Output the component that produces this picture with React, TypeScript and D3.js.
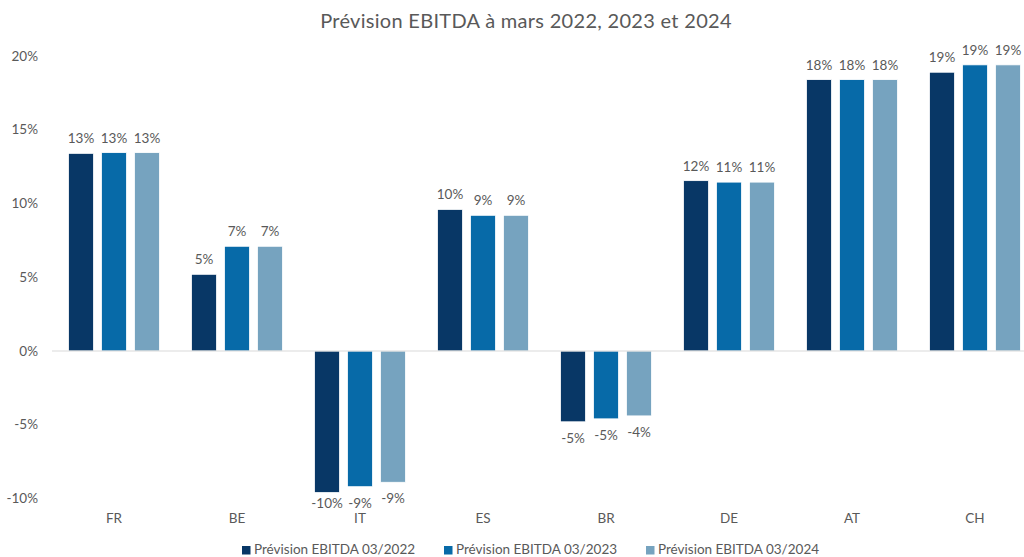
import React from 'react'
import * as d3 from 'd3'

const countries = ['FR', 'BE', 'IT', 'ES', 'BR', 'DE', 'AT', 'CH']
const series = ['Prévision EBITDA 03/2022', 'Prévision EBITDA 03/2023', 'Prévision EBITDA 03/2024']
const ebitda2022 = [13.4, 5.2, -9.6, 9.6, -4.8, 11.55, 18.4, 18.9]
const ebitda2023 = [13.45, 7.1, -9.2, 9.2, -4.6, 11.45, 18.4, 19.4]
const ebitda2024 = [13.45, 7.1, -8.9, 9.2, -4.4, 11.45, 18.4, 19.4]
const yTicks = [-10, -5, 0, 5, 10, 15, 20]
const colors = ['#083766', '#076aa8', '#76a3bf']

const width = 1024
const height = 557
const font = 'Lato, "Open Sans", sans-serif'
const textColor = '#595959'

function App() {
    const values = [ebitda2022, ebitda2023, ebitda2024]

    const x0 = d3.scaleBand().domain(countries).range([52.5, 1036.5]).paddingInner(0.26).paddingOuter(0.13)
    const x1 = d3.scaleBand().domain(series).range([0, x0.bandwidth()]).paddingInner(0.24)
    const y = d3.scaleLinear().domain([-10, 20]).range([498.5, 56])

    const fmt = (v: number) => Math.round(v) + '%'

    return (
        <svg width={width} height={height} style={{ position: 'absolute', left: 0, top: 0 }} fontFamily={font}>
            <rect width={width} height={height} fill="#fff" />
            <text x={526} y={28} textAnchor="middle" fontSize={20} letterSpacing={0.3} fill={textColor}>
                Prévision EBITDA à mars 2022, 2023 et 2024
            </text>

            {yTicks.map(t => (
                <text key={t} x={38} y={y(t) + 4.5} textAnchor="end" fontSize={13.5} fill={textColor}>
                    {t + '%'}
                </text>
            ))}

            {countries.map((c, i) => (
                <g key={c} transform={`translate(${x0(c)},0)`}>
                    {series.map((s, j) => {
                        const v = values[j][i]
                        const top = y(Math.max(0, v))
                        const bottom = y(Math.min(0, v))
                        const bx = x1(s) as number
                        const cx = bx + x1.bandwidth() / 2
                        const ly = v >= 0 ? top - 10 : Math.min(bottom + 21, 508)
                        return (
                            <g key={s}>
                                <rect x={bx} y={top} width={x1.bandwidth()} height={bottom - top}
                                    fill={colors[j]} stroke="#fff" strokeWidth={0.8} />
                                <text x={cx} y={ly} textAnchor="middle" fontSize={13.5} fill={textColor}>
                                    {fmt(v)}
                                </text>
                            </g>
                        )
                    })}
                </g>
            ))}

            <line x1={52} x2={1024} y1={y(0)} y2={y(0)} stroke="#d9d9d9" strokeWidth={1} />

            {countries.map(c => (
                <text key={c} x={(x0(c) as number) + x0.bandwidth() / 2} y={523} textAnchor="middle" fontSize={13.5} fill={textColor}>
                    {c}
                </text>
            ))}

            {series.map((s, j) => (
                <g key={s} transform={`translate(${242 + j * 202},0)`}>
                    <rect x={0} y={546} width={8.5} height={8.5} fill={colors[j]} />
                    <text x={12} y={553.5} fontSize={13.5} fill={textColor}>{s}</text>
                </g>
            ))}
        </svg>
    )
}

export default App
